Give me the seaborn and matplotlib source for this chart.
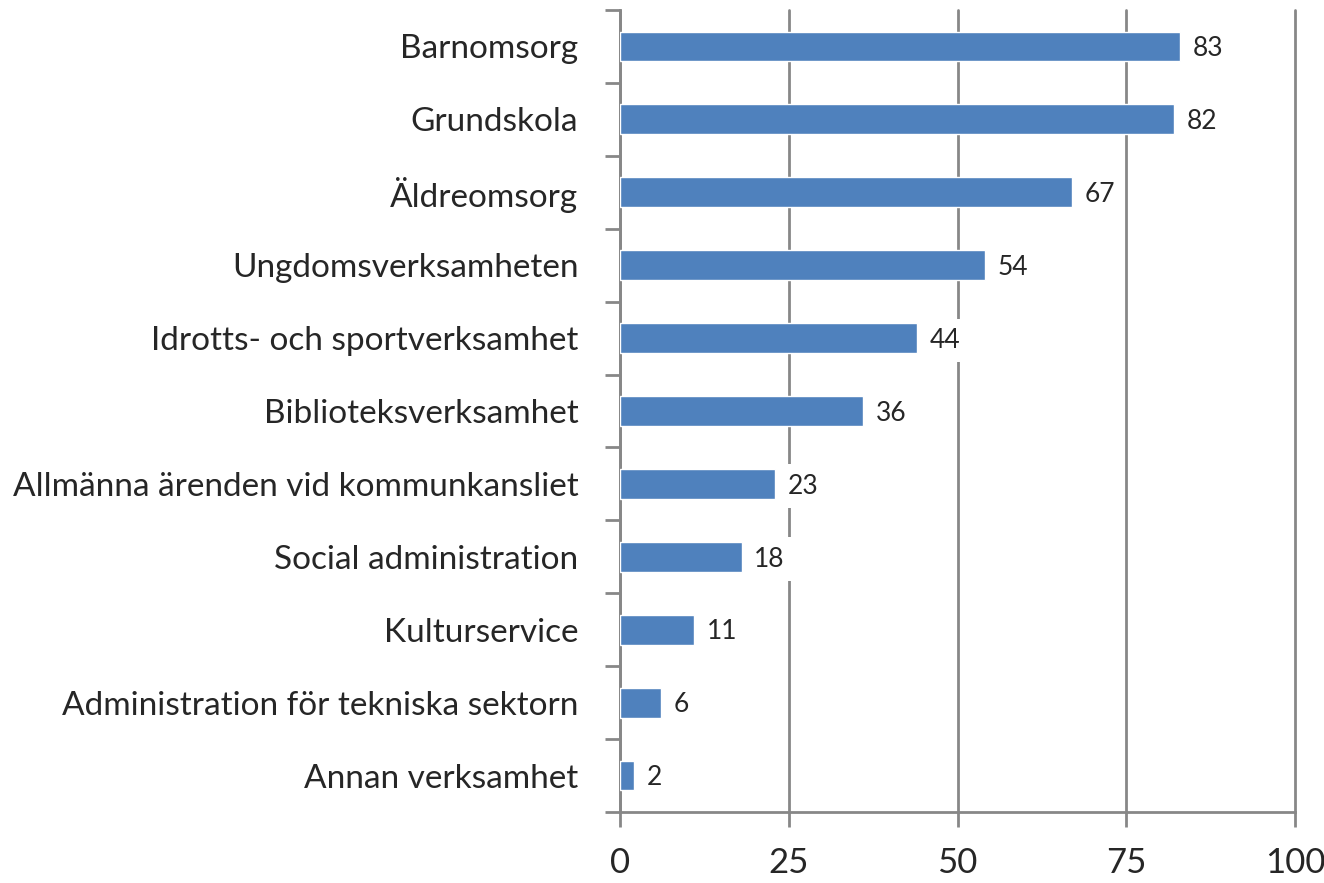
import matplotlib
matplotlib.use("Agg")
import matplotlib.pyplot as plt
import seaborn as sns
import pandas as pd
import numpy as np

categories = [
    "Barnomsorg",
    "Grundskola",
    "Äldreomsorg",
    "Ungdomsverksamheten",
    "Idrotts- och sportverksamhet",
    "Biblioteksverksamhet",
    "Allmänna ärenden vid kommunkansliet",
    "Social administration",
    "Kulturservice",
    "Administration för tekniska sektorn",
    "Annan verksamhet",
]
values = [83, 82, 67, 54, 44, 36, 23, 18, 11, 6, 2]
x_ticks = [0, 25, 50, 75, 100]

sns.set_theme(style="white")
plt.rcParams["font.family"] = ["Lato", "DejaVu Sans"]

df = pd.DataFrame({"cat": categories, "val": values})

fig = plt.figure(figsize=(13.24, 8.83), dpi=100)
ax = fig.add_axes([620 / 1324, 1 - 812 / 883, 675 / 1324, 802 / 883])

grid_col = "#878787"
sns.barplot(data=df, x="val", y="cat", orient="h", color="#4f81bd",
            saturation=1, width=0.41, ax=ax, zorder=3)

ax.set_xlim(0, 100)
ax.set_ylim(len(categories) - 0.5, -0.5)
ax.set_xticks(x_ticks)
ax.set_xticklabels([str(t) for t in x_ticks], fontsize=25)
ax.xaxis.grid(True, color=grid_col, linewidth=2, zorder=0)
for gl in ax.get_xgridlines():
    gl.set_clip_on(False)
ax.set_axisbelow(True)
ax.tick_params(axis="x", direction="out", length=11, width=2, color=grid_col,
               pad=14, bottom=True)

ax.set_yticks(range(len(categories)))
ax.set_yticklabels(categories, fontsize=24)
ax.tick_params(axis="y", which="major", length=0, pad=30)
ax.set_yticks(np.arange(-0.5, len(categories), 1), minor=True)
ax.tick_params(axis="y", which="minor", direction="out", length=11, width=2,
               color=grid_col, left=True)

ax.set_xlabel("")
ax.set_ylabel("")
for side in ["top", "right"]:
    ax.spines[side].set_visible(False)
for side in ["left", "bottom"]:
    ax.spines[side].set_color(grid_col)
    ax.spines[side].set_linewidth(2)

for i, v in enumerate(values):
    ax.text(v + 1.9, i + 0.03, str(v), va="center", ha="left", fontsize=19,
            zorder=4,
            bbox=dict(boxstyle="square,pad=0.35", facecolor="white",
                      edgecolor="none"))

fig.savefig("out.png", dpi=100)
